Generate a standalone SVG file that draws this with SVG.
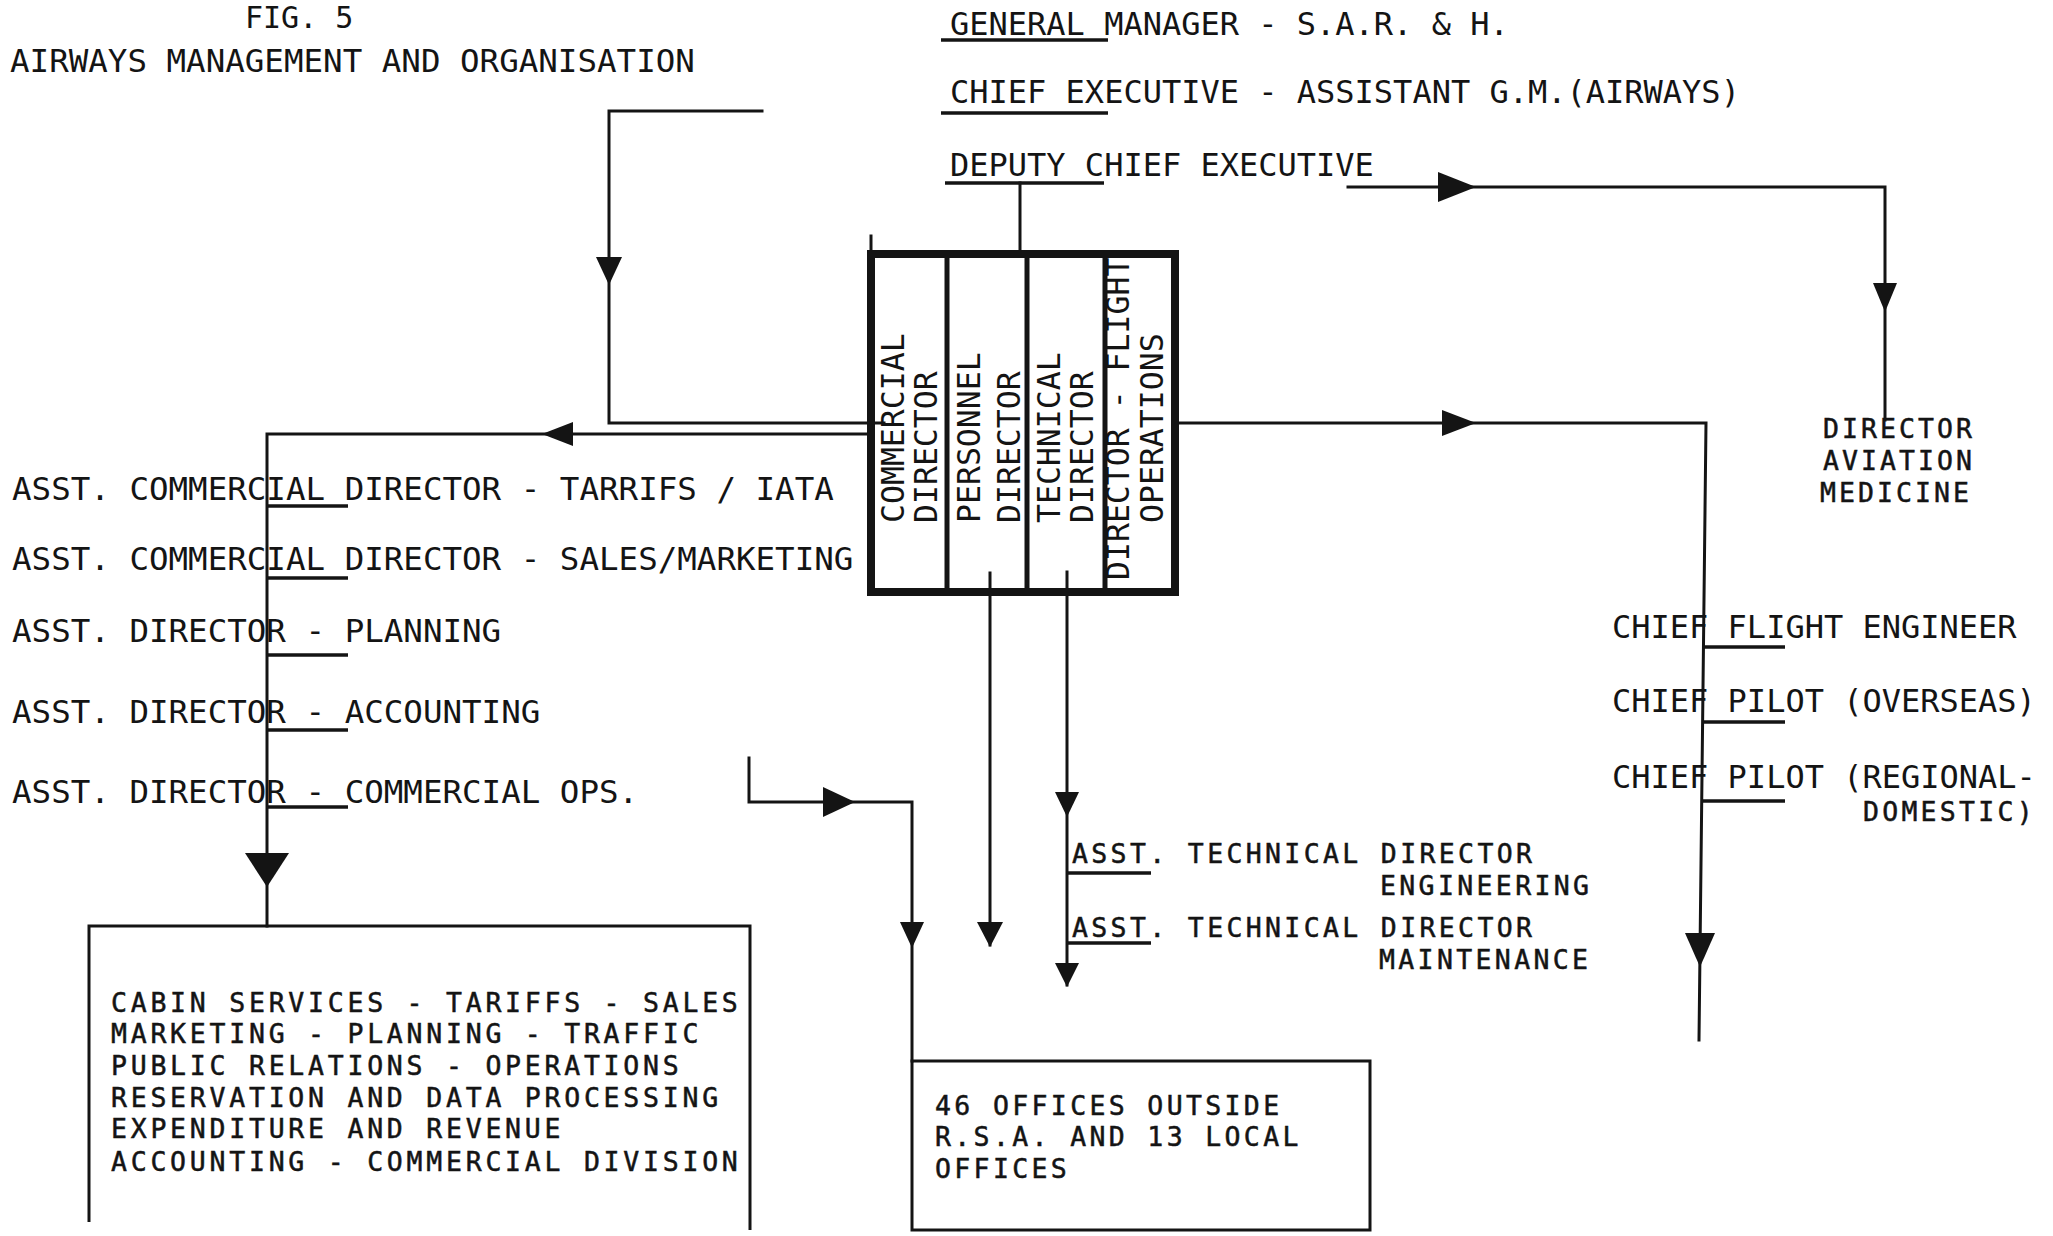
<svg xmlns="http://www.w3.org/2000/svg" width="2053" height="1236" viewBox="0 0 2053 1236">
<style>
text{font-family:"DejaVu Sans Mono","Liberation Mono",monospace;fill:#141414;font-size:32.5px}
.s{font-size:32px}
.r{font-size:31.5px}
.m{font-size:26.5px;stroke:#141414;stroke-width:0.5}
.ln{stroke:#141414;stroke-width:3;fill:none;stroke-linecap:square}
.ul{stroke:#141414;stroke-width:3.5;fill:none}
.bx{stroke:#141414;stroke-width:3;fill:none}
.cb{stroke:#141414;stroke-width:8;fill:none}
.dv{stroke:#141414;stroke-width:5;fill:none}
.ah{fill:#141414}
</style>
<defs>
<path id="ah" d="M0,0 L-1,-0.5 L-1,0.5 Z"/>
<clipPath id="boxclip"><rect x="871" y="256" width="304" height="336"/></clipPath>
</defs>
<rect width="2053" height="1236" fill="#fff"/>

<g id="title">
<text x="245" y="28" style="font-size:30px">FIG. 5</text>
<text x="10" y="72">AIRWAYS MANAGEMENT AND ORGANISATION</text>
</g>

<g id="general-manager">
<text class="s" x="950" y="35">GENERAL MANAGER - S.A.R. &amp; H.</text>
<line class="ul" x1="941" y1="40" x2="1108" y2="40"/>
</g>
<g id="chief-executive">
<text class="s" x="950" y="103">CHIEF EXECUTIVE - ASSISTANT G.M.(AIRWAYS)</text>
<line class="ul" x1="941" y1="113" x2="1108" y2="113"/>
</g>
<g id="deputy-chief-executive">
<text class="s" x="950" y="176">DEPUTY CHIEF EXECUTIVE</text>
<line class="ul" x1="945" y1="183" x2="1104" y2="183"/>
</g>

<g id="directors-box">
<g clip-path="url(#boxclip)">
<text class="r" transform="translate(904,523) rotate(-90)"><tspan x="0" y="0">COMMERCIAL</tspan><tspan x="0" y="33">DIRECTOR</tspan></text>
<text class="r" transform="translate(980,523) rotate(-90)"><tspan x="0" y="0">PERSONNEL</tspan><tspan x="0" y="40">DIRECTOR</tspan></text>
<text class="r" transform="translate(1060,523) rotate(-90)"><tspan x="0" y="0">TECHNICAL</tspan><tspan x="0" y="33">DIRECTOR</tspan></text>
<text class="r" transform="translate(1129,523) rotate(-90)"><tspan x="-57" y="0">DIRECTOR - FLIGHT</tspan><tspan x="0" y="34">OPERATIONS</tspan></text>
</g>
<rect class="cb" x="871" y="254" width="304" height="338"/>
<line class="dv" x1="947" y1="254" x2="947" y2="592"/>
<line class="dv" x1="1027" y1="254" x2="1027" y2="592"/>
<line class="dv" x1="1105" y1="254" x2="1105" y2="592"/>
<line class="ln" x1="871" y1="236" x2="871" y2="252"/>
</g>

<g id="commercial-assistants">
<text x="12" y="500">ASST. COMMERCIAL DIRECTOR - TARRIFS / IATA</text>
<text x="12" y="570">ASST. COMMERCIAL DIRECTOR - SALES/MARKETING</text>
<text x="12" y="642">ASST. DIRECTOR - PLANNING</text>
<text x="12" y="723">ASST. DIRECTOR - ACCOUNTING</text>
<text x="12" y="803">ASST. DIRECTOR - COMMERCIAL OPS.</text>
<line class="ul" x1="267" y1="506" x2="348" y2="506"/>
<line class="ul" x1="267" y1="578" x2="348" y2="578"/>
<line class="ul" x1="267" y1="655" x2="348" y2="655"/>
<line class="ul" x1="267" y1="730" x2="348" y2="730"/>
<line class="ul" x1="267" y1="807" x2="348" y2="807"/>
</g>

<g id="commercial-division">
<path class="bx" d="M89,1222 V926 H750 V1230"/>
<text class="m" style="letter-spacing:3.75px" x="111" y="1012"><tspan x="111" y="1012">CABIN SERVICES - TARIFFS - SALES</tspan><tspan x="111" y="1043">MARKETING - PLANNING - TRAFFIC</tspan><tspan x="111" y="1075">PUBLIC RELATIONS - OPERATIONS</tspan><tspan x="111" y="1107">RESERVATION AND DATA PROCESSING</tspan><tspan x="111" y="1138">EXPENDITURE AND REVENUE</tspan><tspan x="111" y="1171">ACCOUNTING - COMMERCIAL DIVISION</tspan></text>
</g>

<g id="offices">
<rect class="bx" x="912" y="1061" width="458" height="169"/>
<text class="m" style="letter-spacing:3.35px" x="935" y="1115"><tspan x="935" y="1115">46 OFFICES OUTSIDE</tspan><tspan x="935" y="1146">R.S.A. AND 13 LOCAL</tspan><tspan x="935" y="1178">OFFICES</tspan></text>
</g>

<g id="technical-assistants">
<text class="m" style="letter-spacing:3.35px" x="1072" y="863"><tspan x="1072" y="863">ASST. TECHNICAL DIRECTOR</tspan><tspan x="1380" y="895">ENGINEERING</tspan></text>
<text class="m" style="letter-spacing:3.35px" x="1072" y="937"><tspan x="1072" y="937">ASST. TECHNICAL DIRECTOR</tspan><tspan x="1379" y="969">MAINTENANCE</tspan></text>
<line class="ul" x1="1067" y1="873" x2="1151" y2="873"/>
<line class="ul" x1="1067" y1="943" x2="1151" y2="943"/>
</g>

<g id="aviation-medicine">
<text class="m" style="letter-spacing:3.05px" x="1823" y="438"><tspan x="1823" y="438">DIRECTOR</tspan><tspan x="1823" y="470">AVIATION</tspan><tspan x="1820" y="502">MEDICINE</tspan></text>
</g>

<g id="flight-ops-staff">
<text class="s" x="1612" y="638">CHIEF FLIGHT ENGINEER</text>
<text class="s" x="1612" y="712">CHIEF PILOT (OVERSEAS)</text>
<text class="s" x="1612" y="788">CHIEF PILOT (REGIONAL-</text>
<text class="m" style="letter-spacing:3.25px" x="1863" y="821">DOMESTIC)</text>
<line class="ul" x1="1704" y1="647" x2="1785" y2="647"/>
<line class="ul" x1="1704" y1="722" x2="1785" y2="722"/>
<line class="ul" x1="1703" y1="801" x2="1785" y2="801"/>
</g>

<g id="connectors">
<path class="ln" d="M1020,183 V252"/>
<path class="ln" d="M762,111 H609 V423 H884"/>
<path class="ln" d="M872,434 H267 V926"/>
<path class="ln" d="M1348,187 H1885 V420"/>
<path class="ln" d="M1178,423 H1706 L1699,1040"/>
<path class="ln" d="M749,758 V802 H912 V1061"/>
<path class="ln" d="M990,573 V945"/>
<path class="ln" d="M1067,572 V985"/>
<use href="#ah" class="ah" transform="translate(609,285) rotate(90) scale(28,26)"/>
<use href="#ah" class="ah" transform="translate(542,434) rotate(180) scale(31,24)"/>
<use href="#ah" class="ah" transform="translate(267,887) rotate(90) scale(34,44)"/>
<use href="#ah" class="ah" transform="translate(1476,187) rotate(0) scale(38,30)"/>
<use href="#ah" class="ah" transform="translate(1885,312) rotate(90) scale(29,24)"/>
<use href="#ah" class="ah" transform="translate(1476,423) rotate(0) scale(34,26)"/>
<use href="#ah" class="ah" transform="translate(1700,967) rotate(90) scale(34,30)"/>
<use href="#ah" class="ah" transform="translate(855,802) rotate(0) scale(32,30)"/>
<use href="#ah" class="ah" transform="translate(912,948) rotate(90) scale(26,24)"/>
<use href="#ah" class="ah" transform="translate(990,947) rotate(90) scale(25,26)"/>
<use href="#ah" class="ah" transform="translate(1067,817) rotate(90) scale(25,24)"/>
<use href="#ah" class="ah" transform="translate(1067,987) rotate(90) scale(24,24)"/>
</g>
</svg>
